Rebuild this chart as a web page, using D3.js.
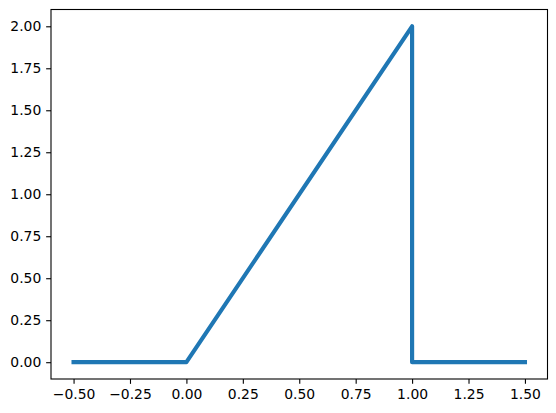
<!DOCTYPE html>
<html>
<head>
<meta charset="utf-8">
<script src="https://cdn.jsdelivr.net/npm/d3@7"></script>
<style>
  body { margin: 0; background: #fff; }
  svg { display: block; }
  .tick text { font-family: "DejaVu Sans", sans-serif; font-size: 13.9px; fill: #000; }
</style>
</head>
<body>
<svg id="chart" width="556" height="413"></svg>
<script>
// data
const xs = [-0.5, 0, 1, 1, 1.5];
const ys = [0, 0, 2, 0, 0];
const xTicks = [-0.5, -0.25, 0, 0.25, 0.5, 0.75, 1, 1.25, 1.5];
const yTicks = [0, 0.25, 0.5, 0.75, 1, 1.25, 1.5, 1.75, 2];

const W = 556, H = 413;
const box = { left: 51, right: 547.5, top: 9.5, bottom: 379 };

const svg = d3.select('#chart');

const x = d3.scaleLinear().domain([-0.6, 1.6]).range([box.left, box.right]);
const y = d3.scaleLinear().domain([-0.1, 2.1]).range([box.bottom, box.top]);

const tickLen = 4.86, pad = 4.86;

const xAxis = d3.axisBottom(x)
  .tickValues(xTicks)
  .tickFormat(d3.format('.2f'))
  .tickSize(tickLen)
  .tickPadding(pad);
const yAxis = d3.axisLeft(y)
  .tickValues(yTicks)
  .tickFormat(d3.format('.2f'))
  .tickSize(tickLen)
  .tickPadding(pad);

const gx = svg.append('g')
  .attr('transform', `translate(0,${box.bottom})`)
  .call(xAxis);
const gy = svg.append('g')
  .attr('transform', `translate(${box.left},0)`)
  .call(yAxis);

[gx, gy].forEach((g) => {
  g.select('.domain').remove();
  g.selectAll('.tick line').attr('stroke', '#000').attr('stroke-width', 1.1);
  g.selectAll('.tick text').text((d) => d3.format('.2f')(d).replace('-', '\u2212'));
});

const line = d3.line()
  .x((d, i) => x(xs[i]))
  .y((d, i) => y(ys[i]));

svg.append('path')
  .datum(xs)
  .attr('d', line)
  .attr('fill', 'none')
  .attr('stroke', '#1f77b4')
  .attr('stroke-width', 4.17)
  .attr('stroke-linejoin', 'round')
  .attr('stroke-linecap', 'square');

// axes frame
svg.append('rect')
  .attr('x', box.left)
  .attr('y', box.top)
  .attr('width', box.right - box.left)
  .attr('height', box.bottom - box.top)
  .attr('fill', 'none')
  .attr('stroke', '#000')
  .attr('stroke-width', 1.1);
</script>
</body>
</html>
